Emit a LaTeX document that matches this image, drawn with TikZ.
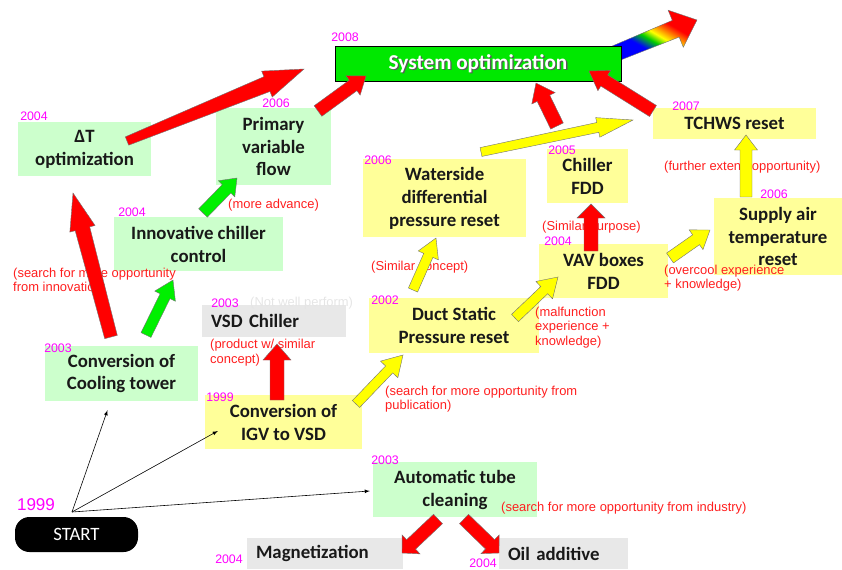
\documentclass[tikz,border=0pt]{standalone}
\usepackage{fontspec}
\setmainfont{Carlito}
\newfontfamily\notefont{Liberation Sans}
\usetikzlibrary{calc,positioning}

\definecolor{boxgreen}{RGB}{204,255,204}
\definecolor{boxyellow}{RGB}{255,255,153}
\definecolor{boxgray}{RGB}{232,232,232}
\definecolor{sysgreen}{RGB}{0,232,0}
\definecolor{arrred}{RGB}{255,0,0}
\definecolor{arrgreen}{RGB}{0,240,0}
\definecolor{arryellow}{RGB}{255,255,0}
\definecolor{yearpink}{RGB}{255,0,255}
\definecolor{notered}{RGB}{255,30,30}

\newdimen\pxu \pxu=0.85pt

\pgfdeclarehorizontalshading{rainbowfill}{100bp}{color(0bp)=(blue); color(38bp)=(blue); color(46bp)=(green!80!black); color(52bp)=(yellow); color(58bp)=(orange); color(64bp)=(red); color(100bp)=(red)}

% fat arrow: style, tail, tip, tail half width, shaft half width, head half width, head length (px)
\newcommand\blockarrow[7]{%
  \pgfmathsetlengthmacro\arrwa{#4*0.85pt}%
  \pgfmathsetlengthmacro\arrwb{#5*0.85pt}%
  \pgfmathsetlengthmacro\arrh{#6*0.85pt}%
  \pgfmathsetlengthmacro\arrl{#7*0.85pt}%
  \path[blockarr, #1] ($(#2)!\arrwa!90:(#3)$) -- ($(#3)!\arrl!(#2)!\arrwb!90:(#3)$)
    -- ($(#3)!\arrl!(#2)!\arrh!90:(#3)$) -- (#3) -- ($(#3)!\arrl!(#2)!\arrh!-90:(#3)$)
    -- ($(#3)!\arrl!(#2)!\arrwb!-90:(#3)$) -- ($(#2)!\arrwa!-90:(#3)$) -- cycle;
}

\tikzset{
  box/.style={inner sep=0pt, align=center, text=black!90, font=\fontsize{16}{19.5}\selectfont\bfseries},
  greenbox/.style={box, fill=boxgreen},
  yellowbox/.style={box, fill=boxyellow},
  graybox/.style={box, fill=boxgray, align=left, inner xsep=9\pxu},
  sysbox/.style={draw=black, line width=0.8pt, fill=sysgreen, minimum width=286\pxu, minimum height=35\pxu},
  systext/.style={inner sep=0pt, text=white, font=\fontsize{18}{20}\selectfont\bfseries},
  startbox/.style={fill=black, text=white, rounded corners=14.5\pxu, minimum width=123\pxu, minimum height=35\pxu, font=\fontsize{16}{19}\selectfont},
  year/.style={inner sep=0pt, text=yearpink, font=\notefont\fontsize{10.5}{12}\selectfont},
  note/.style={inner sep=0pt, anchor=west, align=left, text=notered, font=\notefont\fontsize{11}{12.4}\selectfont},
  blockarr/.style={draw=black!55, line width=0.35pt},
}

\begin{document}
\begin{tikzpicture}[x=0.85pt,y=-0.85pt,>=latex]
    \useasboundingbox (0,0) rectangle (842,569);

    % the way ahead
    \coordinate (sys_out) at (614,54);
    \coordinate (future) at (697,20);
    \blockarrow{shade, shading=rainbowfill, shading angle=60}{sys_out}{future}{8}{9}{20}{23}

    \node[sysbox] (sysopt) at (478,63.5) {};
    \node[systext, text=black!65] (sys_shadow) at ([shift={(1.3,1.3)}]sysopt.center) {System optimization};
    \node[systext] (sys_label) at (sysopt.center) {System optimization};

    \node[greenbox, minimum width=133\pxu, minimum height=54\pxu] (dT) at (84.5,149) {ΔT\\optimization};
    \node[greenbox, minimum width=115\pxu, minimum height=77\pxu] (primary) at (273.5,146.5) {Primary\\variable\\flow};
    \node[greenbox, minimum width=169\pxu, minimum height=54\pxu] (innov) at (198.5,244) {Innovative chiller\\control};
    \node[greenbox, minimum width=153\pxu, minimum height=55\pxu] (cool) at (121.5,373.5) {Conversion of\\Cooling tower};
    \node[greenbox, minimum width=164\pxu, minimum height=55\pxu] (tube) at (455,489.5) {Automatic tube\\cleaning};

    \node[yellowbox, minimum width=157\pxu, minimum height=54\pxu] (igv) at (283.5,422) {Conversion of\\IGV to VSD};
    \node[yellowbox, minimum width=170\pxu, minimum height=55\pxu] (duct) at (454,325.5) {Duct Static\\Pressure reset};
    \node[yellowbox, minimum width=163\pxu, minimum height=78\pxu] (water) at (444.5,198) {Waterside\\differential\\pressure reset};
    \node[yellowbox, minimum width=81\pxu, minimum height=54\pxu] (cfdd) at (587.5,176) {Chiller\\FDD};
    \node[yellowbox, minimum width=129\pxu, minimum height=54\pxu] (vav) at (603.5,271) {VAV boxes\\FDD};
    \node[yellowbox, minimum width=128\pxu, minimum height=77\pxu] (supply) at (778,236.5) {Supply air\\temperature\\reset};
    \node[yellowbox, minimum width=163\pxu, minimum height=31\pxu] (tchws) at (734.5,123.5) {TCHWS reset};

    \node[graybox, text width=126\pxu, minimum height=32\pxu] (vsd) at (274,321) {VSD Chiller};
    \node[graybox, text width=138\pxu, minimum height=31\pxu] (mag) at (325,553.5) {Magnetization};
    \node[graybox, text width=111\pxu, minimum height=31\pxu] (oil) at (563.5,553.5) {Oil additive};

    \node[startbox] (start) at (76.5,534.5) {START};

    % years
    \node[year] (yr_sys) at (345,37) {2008};
    \node[year] (yr_dT) at (34,116) {2004};
    \node[year] (yr_primary) at (276,103) {2006};
    \node[year] (yr_innov) at (132,212) {2004};
    \node[year] (yr_cool) at (58,348) {2003};
    \node[year] (yr_vsd) at (225,303) {2003};
    \node[year] (yr_igv) at (220,397) {1999};
    \node[year] (yr_duct) at (385,300) {2002};
    \node[year] (yr_water) at (378,160) {2006};
    \node[year] (yr_cfdd) at (562,150) {2005};
    \node[year] (yr_vav) at (558,241) {2004};
    \node[year] (yr_supply) at (774,194) {2006};
    \node[year] (yr_tchws) at (686,106) {2007};
    \node[year] (yr_tube) at (385,460) {2003};
    \node[year] (yr_mag) at (229,559) {2004};
    \node[year] (yr_oil) at (483,563) {2004};
    \node[year, font=\notefont\fontsize{14.5}{16}\selectfont] (yr_start) at (36,505) {1999};

    % remarks
    \node[note] (n_innov) at (13,281) {(search for more opportunity\\from innovation)};
    \node[note] (n_adv) at (228,205) {(more advance)};
    \node[note, text=black!10] (n_notwell) at (250,303) {(Not well perform)};
    \node[note] (n_vsd) at (210,352.5) {(product w/ similar\\concept)};
    \node[note] (n_simc) at (371,267) {(Similar concept)};
    \node[note] (n_pub) at (385,399) {(search for more opportunity from\\publication)};
    \node[note] (n_mal) at (535,327.5) {(malfunction\\experience +\\knowledge)};
    \node[note] (n_simp) at (542,227) {(Similar purpose)};
    \node[note] (n_over) at (664,278) {(overcool experience\\+ knowledge)};
    \node[note] (n_ext) at (664,167) {(further extend opportunity)};
    \node[note] (n_ind) at (501,508) {(search for more opportunity from industry)};

    % arrow ends
    \coordinate (dT_out) at (127,141);      \coordinate (sys_in_a) at (304,69);
    \coordinate (primary_out) at (318,111); \coordinate (sys_in_b) at (366,76);
    \coordinate (fdd_up) at (557,126);      \coordinate (sys_in_c) at (536,83);
    \coordinate (tchws_out) at (653,111);   \coordinate (sys_in_d) at (589,71);
    \coordinate (cool_out_a) at (111,337);  \coordinate (dT_in) at (73,193);
    \coordinate (cool_out_b) at (146,335);  \coordinate (innov_in) at (173,280);
    \coordinate (innov_out) at (203,213);   \coordinate (primary_in) at (237,178);
    \coordinate (igv_out_a) at (277,400);   \coordinate (vsd_in) at (277,344);
    \coordinate (igv_out_b) at (356,404);   \coordinate (duct_in) at (403,355);
    \coordinate (duct_out_a) at (413,290);  \coordinate (water_in) at (436,238);
    \coordinate (duct_out_b) at (515,318);  \coordinate (vav_in) at (558,277);
    \coordinate (vav_out_a) at (591,251);   \coordinate (cfdd_in) at (591,204);
    \coordinate (vav_out_b) at (670,258);   \coordinate (supply_in) at (710,230);
    \coordinate (supply_out) at (746,197);  \coordinate (tchws_in) at (746,135);
    \coordinate (water_out) at (481,152);   \coordinate (tchws_near) at (633,120);
    \coordinate (tube_out_a) at (438,519);  \coordinate (mag_in) at (402,553);
    \coordinate (tube_out_b) at (464,519);  \coordinate (oil_in) at (499,553);

    \blockarrow{fill=arryellow}{igv_out_b}{duct_in}{5}{5}{12}{20}
    \blockarrow{fill=arryellow}{duct_out_a}{water_in}{5}{5}{11}{19}
    \blockarrow{fill=arryellow}{duct_out_b}{vav_in}{5}{5}{12}{19}
    \blockarrow{fill=arryellow}{vav_out_b}{supply_in}{6}{6}{12}{17}
    \blockarrow{fill=arryellow}{supply_out}{tchws_in}{6}{6}{11.5}{15}
    \blockarrow{fill=arryellow}{water_out}{tchws_near}{4.5}{5}{10}{36}

    \blockarrow{fill=arrgreen}{cool_out_b}{innov_in}{5.5}{5.5}{11.5}{18}
    \blockarrow{fill=arrgreen}{innov_out}{primary_in}{6}{6}{11.5}{15}

    \blockarrow{fill=arrred}{dT_out}{sys_in_a}{4.5}{8}{14}{40}
    \blockarrow{fill=arrred}{primary_out}{sys_in_b}{6.5}{6.5}{12}{16}
    \blockarrow{fill=arrred}{fdd_up}{sys_in_c}{7}{7}{13}{17}
    \blockarrow{fill=arrred}{tchws_out}{sys_in_d}{6.5}{6.5}{12}{18}
    \blockarrow{fill=arrred}{cool_out_a}{dT_in}{6.5}{7.5}{13}{37}
    \blockarrow{fill=arrred}{igv_out_a}{vsd_in}{7}{7}{14}{16}
    \blockarrow{fill=arrred}{vav_out_a}{cfdd_in}{7}{7}{14}{14}
    \blockarrow{fill=arrred}{tube_out_a}{mag_in}{6.5}{6.5}{13}{12.5}
    \blockarrow{fill=arrred}{tube_out_b}{oil_in}{6.5}{6.5}{13}{12.5}

    % first steps
    \coordinate (fork) at (72,512);
    \draw[->, line width=0.5pt] (fork) -- ([shift={(-14,9)}]cool.south);
    \draw[->, line width=0.5pt] (fork) -- ([shift={(13,9)}]igv.west);
    \draw[->, line width=0.5pt] (fork) -- ([shift={(-3,1.5)}]tube.west);
\end{tikzpicture}
\end{document}
